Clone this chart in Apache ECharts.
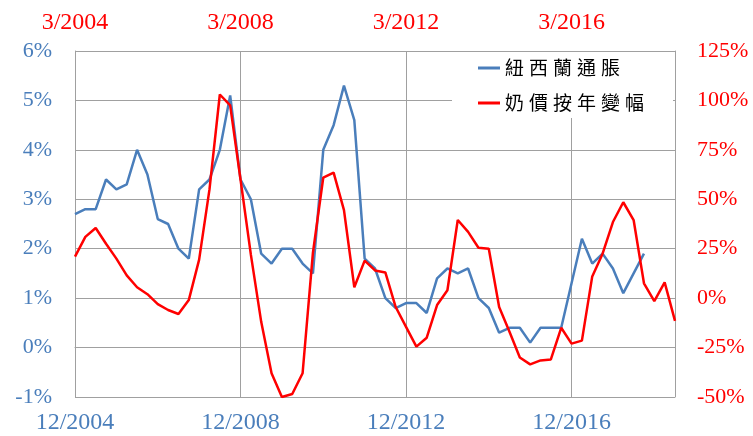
<!DOCTYPE html>
<html>
<head>
<meta charset="utf-8">
<script src="https://cdn.jsdelivr.net/npm/echarts@6/dist/echarts.min.js"></script>
<style>
html,body{margin:0;padding:0;background:#fff;}
#chart{width:753px;height:436px;}
</style>
</head>
<body>
<div id="chart"></div>
<script>
// Bottom category axis (NZ CPI quarters)
var bottomCats = [
"12/2004",
"3/2005","6/2005","9/2005","12/2005",
"3/2006","6/2006","9/2006","12/2006",
"3/2007","6/2007","9/2007","12/2007",
"3/2008","6/2008","9/2008","12/2008",
"3/2009","6/2009","9/2009","12/2009",
"3/2010","6/2010","9/2010","12/2010",
"3/2011","6/2011","9/2011","12/2011",
"3/2012","6/2012","9/2012","12/2012",
"3/2013","6/2013","9/2013","12/2013",
"3/2014","6/2014","9/2014","12/2014",
"3/2015","6/2015","9/2015","12/2015",
"3/2016","6/2016","9/2016","12/2016",
"3/2017","6/2017","9/2017","12/2017",
"3/2018","6/2018","9/2018","12/2018",
"3/2019","6/2019"
];
// Top category axis (milk price quarters)
var topCats = [
"3/2004","6/2004","9/2004","12/2004",
"3/2005","6/2005","9/2005","12/2005",
"3/2006","6/2006","9/2006","12/2006",
"3/2007","6/2007","9/2007","12/2007",
"3/2008","6/2008","9/2008","12/2008",
"3/2009","6/2009","9/2009","12/2009",
"3/2010","6/2010","9/2010","12/2010",
"3/2011","6/2011","9/2011","12/2011",
"3/2012","6/2012","9/2012","12/2012",
"3/2013","6/2013","9/2013","12/2013",
"3/2014","6/2014","9/2014","12/2014",
"3/2015","6/2015","9/2015","12/2015",
"3/2016","6/2016","9/2016","12/2016",
"3/2017","6/2017","9/2017","12/2017",
"3/2018","6/2018","9/2018"
];
var seriesNames = ["紐西蘭通脹", "奶價按年變幅"];
// NZ CPI, % y/y (left axis)
var nzCpi = [
2.7,2.8,2.8,3.4,3.2,3.3,4.0,3.5,2.6,2.5,2.0,1.8,3.2,3.4,4.0,5.1,
3.4,3.0,1.9,1.7,2.0,2.0,1.7,1.5,4.0,4.5,5.3,4.6,1.8,1.6,1.0,0.8,
0.9,0.9,0.7,1.4,1.6,1.5,1.6,1.0,0.8,0.3,0.4,0.4,0.1,0.4,0.4,0.4,
1.3,2.2,1.7,1.9,1.6,1.1,1.5,1.9
];
// Milk price, % y/y (right axis)
var milkYoY = [
21,31,35.5,27.5,20,11.5,5.5,2,-3,-6,-8,-1,19.5,55,103,97.5,
60,22,-12,-38,-50,-48.5,-38,23,61,63.5,44.5,5.5,19,14,13,-4.5,
-14.5,-24.5,-20,-3.5,4,39.5,33.5,25.5,25,-4.5,-17,-30,-33.5,-31.5,-31,-15,
-23,-21.5,11,22.5,38.5,48.5,39.5,7.5,-1.5,8,-11.5
];
var leftTicks = {min: -1, max: 6, interval: 1};
var rightTicks = {min: -50, max: 125, interval: 25};

var blue = '#4a7ebb';
var red = '#ff0000';
var gridGray = '#a0a0a0';
var serif = '"Liberation Serif", "Times New Roman", serif';
var cjk = '"Noto Sans CJK TC", "Noto Sans CJK SC", sans-serif';

var chart = echarts.init(document.getElementById('chart'));
chart.setOption({
  animation: false,
  backgroundColor: '#fff',
  grid: {left: 75, right: 78, top: 51, bottom: 39, containLabel: false},
  legend: {
    orient: 'vertical',
    left: 452, top: 52,
    padding: [6, 24, 5, 26],
    backgroundColor: '#fff',
    itemGap: 15,
    itemWidth: 22, itemHeight: 3,
    icon: 'rect',
    data: seriesNames,
    formatter: function (name) {
      return name.split('').map(function (c) { return '{c|' + c + '}'; }).join('');
    },
    textStyle: {
      color: '#000', fontFamily: cjk, fontSize: 19, lineHeight: 20,
      rich: {c: {color: '#000', fontFamily: cjk, fontSize: 19, width: 24, lineHeight: 20}}
    }
  },
  xAxis: [
    {
      type: 'category', position: 'bottom', data: bottomCats, boundaryGap: false,
      axisLine: {show: true, lineStyle: {color: gridGray, width: 1}},
      axisTick: {show: false},
      axisLabel: {interval: 15, color: blue, fontFamily: serif, fontSize: 24, margin: 14},
      splitLine: {show: true, interval: 15, lineStyle: {color: gridGray, width: 1}}
    },
    {
      type: 'category', position: 'top', data: topCats, boundaryGap: false,
      axisLine: {show: false},
      axisTick: {show: false},
      axisLabel: {interval: 15, color: red, fontFamily: serif, fontSize: 24, margin: 16},
      splitLine: {show: false}
    }
  ],
  yAxis: [
    {
      type: 'value', position: 'left',
      min: leftTicks.min, max: leftTicks.max, interval: leftTicks.interval,
      axisLine: {show: true, lineStyle: {color: gridGray, width: 1}},
      axisTick: {show: false},
      axisLabel: {formatter: '{value}%', color: blue, fontFamily: serif, fontSize: 22, margin: 23},
      splitLine: {show: true, lineStyle: {color: gridGray, width: 1}}
    },
    {
      type: 'value', position: 'right',
      min: rightTicks.min, max: rightTicks.max, interval: rightTicks.interval,
      axisLine: {show: true, lineStyle: {color: gridGray, width: 1}},
      axisTick: {show: false},
      axisLabel: {formatter: '{value}%', color: red, fontFamily: serif, fontSize: 22, margin: 22},
      splitLine: {show: false}
    }
  ],
  series: [
    {
      name: seriesNames[0], type: 'line', xAxisIndex: 0, yAxisIndex: 0,
      data: nzCpi, showSymbol: false, symbol: 'none',
      lineStyle: {color: blue, width: 2.5}, itemStyle: {color: blue}, z: 2
    },
    {
      name: seriesNames[1], type: 'line', xAxisIndex: 1, yAxisIndex: 1,
      data: milkYoY, showSymbol: false, symbol: 'none',
      lineStyle: {color: red, width: 2.5}, itemStyle: {color: red}, z: 3
    }
  ]
});
</script>
</body>
</html>
